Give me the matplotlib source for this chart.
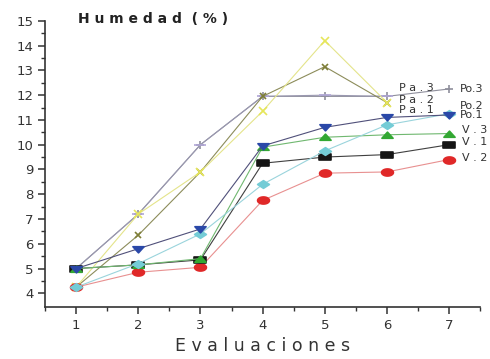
import numpy as np
import matplotlib.pyplot as plt
from matplotlib.path import Path

evaluaciones = [1, 2, 3, 4, 5, 6, 7]

# valores (Humedad %)
pa_1 = [4.25, 6.35, 8.9, 11.95, 13.15, 11.7]
pa_2 = [4.25, 7.2, 8.9, 11.35, 14.2, 11.7]
pa_3 = [5.0, 7.2, 10.0, 11.95, 12.0, 11.95]
po_1 = [4.25, 5.2, 6.4, 8.4, 9.75, 10.8, 11.25]
po_2 = [5.0, 5.8, 6.6, 9.95, 10.7, 11.1, 11.2]
po_3 = [5.0, 7.2, 10.0, 11.95, 11.95, 11.95, 12.25]
v_1 = [5.0, 5.15, 5.35, 9.25, 9.5, 9.6, 10.0]
v_2 = [4.25, 4.85, 5.05, 7.75, 8.85, 8.9, 9.4]
v_3 = [5.0, 5.15, 5.4, 9.9, 10.3, 10.4, 10.45]

# marcadores aplastados como en el original
t = np.linspace(0, 2 * np.pi, 40)
elipse = Path(np.column_stack([np.cos(t), 0.6 * np.sin(t)]), closed=True)
rect = Path([(-1, -0.6), (1, -0.6), (1, 0.6), (-1, 0.6), (-1, -0.6)], closed=True)
rombo = Path([(-1, 0), (0, 0.65), (1, 0), (0, -0.65), (-1, 0)], closed=True)
tri_arr = Path([(-1, -0.5), (1, -0.5), (0, 0.6), (-1, -0.5)], closed=True)
tri_aba = Path([(-1, 0.5), (1, 0.5), (0, -0.6), (-1, 0.5)], closed=True)

series = [
    # nombre, datos, color linea, color marcador, marcador, tamano, etiqueta (dx, y)
    ("Po.3", po_3, "#8f8f9c", "#8f8f9c", "+", 6, (0.18, 12.25)),
    ("Pa.3", pa_3, "#9a98b0", "#b0a6d6", "_", 8, (0.2, 12.3)),
    ("Pa.1", pa_1, "#8c8c5a", "#7e7e38", "x", 5, (0.2, 11.4)),
    ("Pa.2", pa_2, "#e4e48a", "#e6e65a", "x", 6, (0.2, 11.8)),
    ("V.2", v_2, "#e89090", "#e02828", elipse, 8.5, (0.2, 9.45)),
    ("V.1", v_1, "#404040", "#151515", rect, 8, (0.2, 10.1)),
    ("V.3", v_3, "#70b870", "#33a833", tri_arr, 8, (0.2, 10.6)),
    ("Po.1", po_1, "#9ad4dc", "#74ccd6", rombo, 8.5, (0.18, 11.2)),
    ("Po.2", po_2, "#50507a", "#2a48a8", tri_aba, 8, (0.18, 11.55)),
]

fig = plt.figure(figsize=(4.9, 3.59), dpi=100)
ax = fig.add_axes([0.092, 0.145, 0.888, 0.797])

for nombre, datos, cl, cm, mk, ms, (dx, yl) in series:
    xs = evaluaciones[:len(datos)]
    ax.plot(xs, datos, color=cl, lw=0.8, marker=mk, ms=ms,
            mfc=cm, mec=cm, mew=1.2, zorder=3)
    # las etiquetas Po.x quedan al borde: sin espaciado para que quepan
    etiqueta = nombre if len(xs) == 7 and nombre.startswith("Po") else " ".join(nombre)
    ax.text(xs[-1] + dx, yl, etiqueta, fontsize=8, color="#333333",
            va="center", ha="left", zorder=4, clip_on=False)

ax.set_xlim(0.5, 7.5)
ax.set_ylim(3.45, 15)
ax.set_xticks(evaluaciones)
ax.set_xticks(np.arange(0.5, 7.6, 0.5), minor=True)
ax.set_yticks(range(4, 16))
ax.set_yticks(np.arange(4, 15.1, 0.5), minor=True)

for s in ["top", "right"]:
    ax.spines[s].set_visible(False)
for s in ["left", "bottom"]:
    ax.spines[s].set_color("#333333")
    ax.spines[s].set_linewidth(1.2)

ax.tick_params(axis="both", which="major", direction="out", length=5,
               width=1.1, colors="#333333", labelsize=9.5)
ax.tick_params(axis="both", which="minor", direction="out", length=3,
               width=1.0, colors="#333333")

ax.set_xlabel("E v a l u a c i o n e s", fontsize=12.5, color="#333333", labelpad=4)
ax.text(0.075, 1.005, "H u m e d a d  ( % )", transform=ax.transAxes,
        fontsize=10, fontweight="bold", color="#222222", ha="left", va="center")

fig.savefig("out.png", dpi=100)
